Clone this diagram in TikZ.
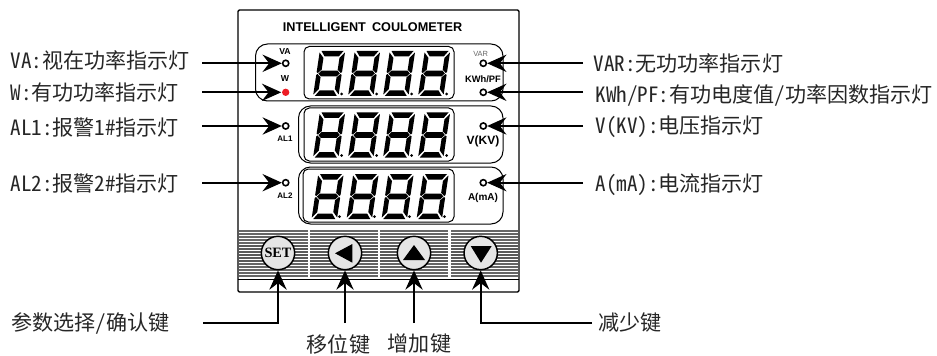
\documentclass[tikz,border=0pt]{standalone}
\usepackage{fontspec}
\usetikzlibrary{arrows.meta}
\newfontfamily\cjkfont[RawFeature=+hwid]{Noto Sans CJK SC}
\setmainfont{Liberation Sans}
\newfontfamily\serifbold{Liberation Serif}
\definecolor{lampred}{RGB}{237,28,36}

\tikzset{every picture/.style={line width=0.75pt}}
\tikzset{
	callout/.style={font=\cjkfont\fontsize{15.8}{16}\selectfont,text=black!85,inner sep=0pt,anchor=west},
	lamp/.style={circle,draw,line width=1.2,fill=white,minimum size=4.6pt,inner sep=0pt},
	lamptext/.style={font=\bfseries\fontsize{6}{6}\selectfont,inner sep=0pt},
	pointer/.style={line width=1.25,-{Stealth[length=14.5pt,width=13pt,inset=5pt]}},
	keyround/.style={circle,draw,line width=1.1,fill=black!10,minimum size=25pt,inner sep=0pt},
}
\newcommand{\segdigit}[2]{%
	\begin{scope}[shift={(#1,#2)},xslant=-0.15,x=0.75pt,y=0.75pt]
		\fill (2,0) -- (24,0) -- (20,5.5) -- (6,5.5) -- cycle ;
		\fill (5,19.7) -- (21,19.7) -- (23.7,22.5) -- (21,25.3) -- (5,25.3) -- (2.3,22.5) -- cycle ;
		\fill (6,39.5) -- (20,39.5) -- (24,45) -- (2,45) -- cycle ;
		\fill (0.3,1.5) -- (5,7) -- (5,18.7) -- (1.5,22) -- (0.3,21) -- cycle ;
		\fill (0.3,24) -- (1.5,23) -- (5,26.3) -- (5,38) -- (0.3,43.5) -- cycle ;
		\fill (25.7,1.5) -- (25.7,21) -- (24.5,22) -- (21,18.7) -- (21,7) -- cycle ;
		\fill (24.5,23) -- (25.7,24) -- (25.7,43.5) -- (21,38) -- (21,26.3) -- cycle ;
	\end{scope}%
}

\begin{document}
\begin{tikzpicture}[x=0.75pt,y=0.75pt,yscale=-1,xscale=1]
	\useasboundingbox (0,0) rectangle (937,356);
	\fill [white] (0,0) rectangle (937,356);

	%Grille behind the keys
	\foreach \yy in {231,234,237,240,243,264,267,270,273,276} {
		\draw [black!60,line width=0.8] (239,\yy) -- (518,\yy) ;
	}
	\foreach \yy in {246,249,252,255,258,261} {
		\draw [black!65,line width=1.5] (239,\yy) -- (518,\yy) ;
	}
	\foreach \xx in {309,379,449.5} {
		\fill [white] (\xx-1.2,229) rectangle (\xx+1.2,277) ;
	}
	%Case
	\draw [line width=1.1,rounded corners=1] (238,10) rectangle (519,292) ;
	\draw [line width=0.75] (238,279) -- (519,279) ;
	\node (title) [font=\bfseries\fontsize{9.5}{10}\selectfont,inner sep=0pt] at (372.5,27) {INTELLIGENT\hspace{2pt} COULOMETER};

	%Panels
	\draw [line width=0.75,rounded corners=9] (255.5,44) rectangle (503,101) ;
	\draw [line width=0.75,rounded corners=9] (298.5,106) rectangle (503,163) ;
	\draw [line width=0.75,rounded corners=9] (298.5,167) rectangle (503,224) ;
	\draw [line width=0.75,rounded corners=4] (304,46.5) rectangle (454,99) ;
	\draw [line width=0.75,rounded corners=4] (304,108) rectangle (454,161) ;
	\draw [line width=0.75,rounded corners=4] (303,169) rectangle (454,222) ;

	%Digits
	\foreach \nn in {0,1,2,3} {
		\segdigit{319.5+35*\nn}{51}
		\fill (341.7+35*\nn,94) circle (1.5) ;
		\segdigit{319.5+35*\nn}{112.5}
		\fill (341.7+35*\nn,155.5) circle (1.5) ;
		\segdigit{318+35*\nn}{174}
		\fill (339.5+35*\nn,216.7) circle (1.5) ;
	}

	%Lamps
	\node (lampVA) [lamp] at (285.7,63.3) {};
	\node (lampW) [lamp,draw=none,fill=lampred,minimum size=5.5pt] at (285.7,92.3) {};
	\node (lampAL1) [lamp] at (285.7,126) {};
	\node (lampAL2) [lamp] at (285.7,182.7) {};
	\node (lampVAR) [lamp] at (483.3,63.3) {};
	\node (lampPF) [lamp] at (483.3,92.3) {};
	\node (lampV) [lamp] at (483.3,126) {};
	\node (lampA) [lamp] at (483.3,182.7) {};
	\node (txtVA) [lamptext,font=\bfseries\fontsize{6.5}{7}\selectfont] at (285,51.5) {VA};
	\node (txtW) [lamptext,font=\bfseries\fontsize{6.5}{7}\selectfont] at (285,79) {W};
	\node (txtAL1) [lamptext] at (285,139) {AL1};
	\node (txtAL2) [lamptext] at (285,196) {AL2};
	\node (txtVAR) [lamptext,font=\fontsize{5.6}{6}\selectfont,text=black!60] at (480.7,54) {VAR};
	\node (txtPF) [lamptext,font=\bfseries\fontsize{7}{7}\selectfont] at (483,79) {KWh/PF};
	\node (txtV) [lamptext,font=\bfseries\fontsize{9}{9}\selectfont] at (483,141) {V(KV)};
	\node (txtA) [lamptext,font=\bfseries\fontsize{7.5}{8}\selectfont] at (483,197.5) {A(mA)};

	%Keys
	\node (keySET) [keyround,font=\serifbold\bfseries\fontsize{10.7}{11}\selectfont] at (278,253) {SET};
	\node (keyLeft) [keyround] at (345,253) {};
	\node (keyUp) [keyround] at (414,253) {};
	\node (keyDown) [keyround] at (480.7,253) {};
	\fill (335,253.3) -- (352.4,244) -- (352.4,262.7) -- cycle ;
	\fill (414,245) -- (425,260) -- (403,260) -- cycle ;
	\fill (481,262.7) -- (470.7,246) -- (491.7,246) -- cycle ;

	%Left labels
	\node (nameVA) [callout] at (10,60.5) {VA:视在功率指示灯};
	\node (nameW) [callout] at (10,92) {W:有功功率指示灯};
	\node (nameAL1) [callout] at (10,127) {AL1:报警1\#指示灯};
	\node (nameAL2) [callout] at (10,183) {AL2:报警2\#指示灯};
	%Right labels
	\node (nameVAR) [callout] at (593,63) {VAR:无功功率指示灯};
	\node (namePF) [callout] at (595,95) {KWh/PF:有功电度值/功率因数指示灯};
	\node (nameV) [callout] at (595,127) {V(KV):电压指示灯};
	\node (nameA) [callout] at (595,185) {A(mA):电流指示灯};
	%Key labels
	\node (nameSET) [callout] at (11,323) {参数选择/确认键};
	\node (nameLeft) [callout,anchor=center] at (338.5,344) {移位键};
	\node (nameUp) [callout,anchor=center] at (419.5,344) {增加键};
	\node (nameDown) [callout] at (598,323) {减少键};

	%Free ends of the pointers
	\coordinate (startVA) at (202,63.3);
	\coordinate (startW) at (202,92.3);
	\coordinate (startAL1) at (202,126);
	\coordinate (startAL2) at (202,182.7);
	\coordinate (startVAR) at (583,63.3);
	\coordinate (startPF) at (583,92.3);
	\coordinate (startV) at (583,126);
	\coordinate (startA) at (583,182.7);
	\coordinate (startSET) at (203,323);
	\coordinate (startLeft) at (345,323);
	\coordinate (startUp) at (414,323);
	\coordinate (startDown) at (592,323);

	\draw [pointer] (startVA) -- (lampVA) ;
	\draw [pointer] (startW) -- (lampW) ;
	\draw [pointer] (startAL1) -- (lampAL1) ;
	\draw [pointer] (startAL2) -- (lampAL2) ;
	\draw [pointer] (startVAR) -- (lampVAR) ;
	\draw [pointer] (startPF) -- (lampPF) ;
	\draw [pointer] (startV) -- (lampV) ;
	\draw [pointer] (startA) -- (lampA) ;
	\draw [pointer] (startSET) -| (keySET) ;
	\draw [pointer] (startLeft) -- (keyLeft) ;
	\draw [pointer] (startUp) -- (keyUp) ;
	\draw [pointer] (startDown) -| (keyDown) ;
\end{tikzpicture}
\end{document}
